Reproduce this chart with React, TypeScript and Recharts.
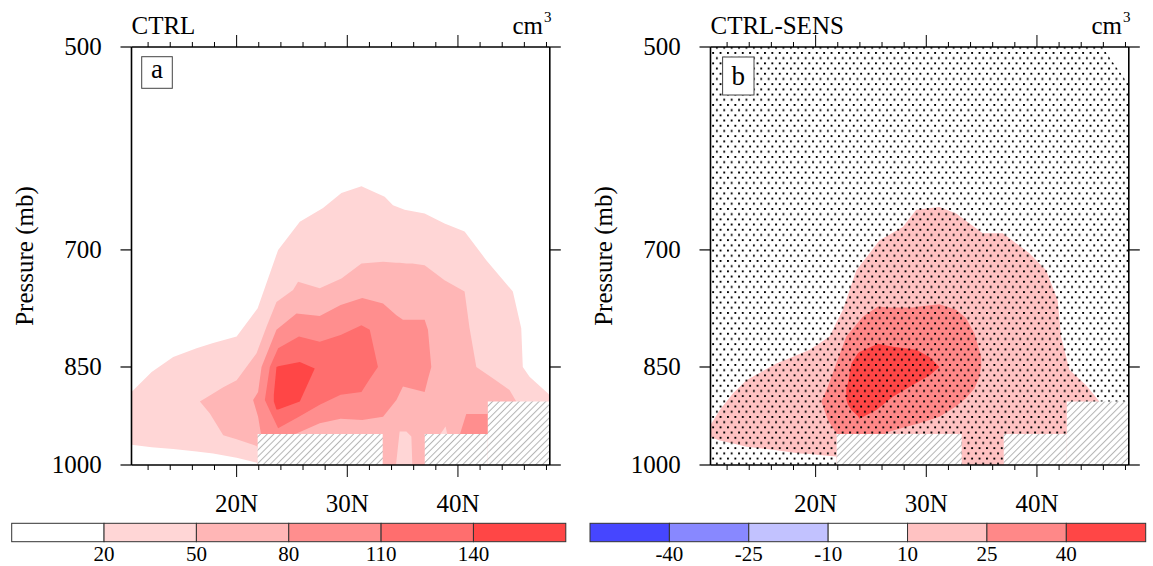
import { Area, ComposedChart, XAxis, YAxis } from 'recharts';

type Pt = { lat: number; p: [number, number] };

const FONT = '"Liberation Serif", "Times New Roman", serif';

const latDomain = [10.5, 48.3];
const latTicks = [12, 14, 16, 18, 20, 22, 24, 26, 28, 30, 32, 34, 36, 38, 40, 42, 44, 46, 48];
const pDomain = [500, 1000];
const pTicks = [500, 700, 850, 1000];

const ctrlLabels = ['20', '50', '80', '110', '140'];
const ctrlColors = ['#ffffff', '#ffd6d6', '#ffb6b6', '#ff8e8e', '#ff6e6e', '#ff4646'];
const diffLabels = ['-40', '-25', '-10', '10', '25', '40'];
const diffColors = ['#4646ff', '#8888ff', '#c2c2ff', '#ffffff', '#ffc2c2', '#ff8888', '#ff4646'];

// CTRL, each band as [top, bottom] pressure per latitude
const ctrl20: Pt[] = [
  { lat: 10.5, p: [886, 967] }, { lat: 12.32, p: [857, 971] }, { lat: 14.27, p: [836, 974] },
  { lat: 16.38, p: [824, 978] }, { lat: 17.88, p: [817, 981] }, { lat: 20.0, p: [808, 988] },
  { lat: 21.8, p: [773, 996] }, { lat: 21.9, p: [771, 1000] }, { lat: 23.75, p: [700, 1000] },
  { lat: 25.71, p: [668, 1000] }, { lat: 27.81, p: [653, 1000] }, { lat: 29.47, p: [637, 1000] },
  { lat: 31.28, p: [630, 1000] }, { lat: 33.38, p: [641, 1000] }, { lat: 34.13, p: [650, 1000] },
  { lat: 35.18, p: [655, 1000] }, { lat: 36.99, p: [659, 1000] }, { lat: 38.79, p: [670, 1000] },
  { lat: 40.6, p: [679, 1000] }, { lat: 42.56, p: [712, 1000] }, { lat: 44.96, p: [750, 1000] },
  { lat: 45.72, p: [797, 1000] }, { lat: 45.86, p: [850, 1000] }, { lat: 46.47, p: [864, 1000] },
  { lat: 48.12, p: [888, 1000] }, { lat: 48.3, p: [891, 1000] },
];
const ctrl50: Pt[] = [
  { lat: 16.68, p: [900, 900] }, { lat: 17.58, p: [891, 918] }, { lat: 18.79, p: [879, 952] },
  { lat: 20.0, p: [869, 958] }, { lat: 21.8, p: [831, 969] }, { lat: 22.7, p: [795, 1000] },
  { lat: 23.6, p: [763, 1000] }, { lat: 25.1, p: [748, 1000] }, { lat: 25.55, p: [738, 1000] },
  { lat: 27.51, p: [746, 1000] }, { lat: 29.47, p: [734, 1000] }, { lat: 31.28, p: [716, 1000] },
  { lat: 33.23, p: [714, 1000] }, { lat: 34.4, p: [715, 1000] }, { lat: 34.73, p: [715, 946] },
  { lat: 35.34, p: [716, 946] }, { lat: 35.79, p: [716, 954] }, { lat: 35.88, p: [716, 1000] },
  { lat: 36.99, p: [718, 1000] }, { lat: 38.79, p: [736, 1000] }, { lat: 40.6, p: [750, 1000] },
  { lat: 41.05, p: [797, 1000] }, { lat: 41.66, p: [850, 1000] }, { lat: 43.15, p: [866, 1000] },
  { lat: 44.66, p: [883, 1000] }, { lat: 45.27, p: [900, 1000] },
];
const ctrl20Notch: Pt[] = [
  { lat: 38.34, p: [952, 952] }, { lat: 38.88, p: [938, 952] }, { lat: 39.06, p: [952, 952] },
];
const ctrl80: Pt[] = [
  { lat: 21.49, p: [898, 898] }, { lat: 21.94, p: [886, 923] }, { lat: 22.25, p: [850, 955] },
  { lat: 23.6, p: [799, 960] }, { lat: 25.41, p: [778, 949] }, { lat: 27.51, p: [781, 933] },
  { lat: 29.4, p: [767, 926] }, { lat: 31.35, p: [758, 928] }, { lat: 33.23, p: [765, 923] },
  { lat: 34.44, p: [780, 898] }, { lat: 35.03, p: [786, 878] }, { lat: 36.99, p: [786, 886] },
  { lat: 37.29, p: [799, 867] }, { lat: 37.59, p: [850, 850] },
];
const ctrl80Patch: Pt[] = [
  { lat: 40.15, p: [952, 952] }, { lat: 40.75, p: [919, 952] }, { lat: 42.7, p: [919, 952] },
];
const ctrl110: Pt[] = [
  { lat: 22.55, p: [898, 898] }, { lat: 23.0, p: [850, 914] }, { lat: 23.75, p: [824, 941] },
  { lat: 25.63, p: [808, 923] }, { lat: 27.51, p: [815, 905] }, { lat: 29.4, p: [806, 890] },
  { lat: 31.28, p: [793, 886] }, { lat: 32.03, p: [799, 867] }, { lat: 32.77, p: [850, 850] },
];
const ctrl140: Pt[] = [
  { lat: 23.36, p: [890, 900] }, { lat: 23.6, p: [850, 912] }, { lat: 23.75, p: [849, 912] },
  { lat: 25.71, p: [843, 900] }, { lat: 27.06, p: [852, 852] },
];

// CTRL-SENS
const diff10: Pt[] = [
  { lat: 10.5, p: [936, 955] }, { lat: 11.34, p: [913, 960] }, { lat: 12.54, p: [888, 965] },
  { lat: 13.75, p: [869, 970] }, { lat: 16.46, p: [845, 976] }, { lat: 18.56, p: [832, 981] },
  { lat: 19.46, p: [826, 982] }, { lat: 21.27, p: [808, 985] }, { lat: 21.87, p: [790, 986] },
  { lat: 21.9, p: [789, 1000] }, { lat: 22.47, p: [773, 1000] }, { lat: 23.68, p: [724, 1000] },
  { lat: 25.78, p: [689, 1000] }, { lat: 27.88, p: [674, 1000] }, { lat: 29.09, p: [655, 1000] },
  { lat: 31.19, p: [652, 1000] }, { lat: 32.7, p: [659, 1000] }, { lat: 35.1, p: [681, 1000] },
  { lat: 36.91, p: [681, 1000] }, { lat: 39.32, p: [704, 1000] }, { lat: 40.83, p: [724, 1000] },
  { lat: 41.87, p: [761, 1000] }, { lat: 42.18, p: [808, 1000] }, { lat: 42.93, p: [854, 1000] },
  { lat: 44.44, p: [876, 1000] }, { lat: 45.64, p: [900, 1000] },
];
const diff25: Pt[] = [
  { lat: 20.52, p: [900, 900] }, { lat: 21.11, p: [878, 928] }, { lat: 21.87, p: [845, 949] },
  { lat: 22.77, p: [808, 955] }, { lat: 24.27, p: [782, 955] }, { lat: 25.63, p: [769, 955] },
  { lat: 26.68, p: [770, 946] }, { lat: 28.79, p: [770, 936] }, { lat: 29.39, p: [769, 933] },
  { lat: 31.19, p: [766, 923] }, { lat: 32.7, p: [773, 907] }, { lat: 33.6, p: [784, 895] },
  { lat: 34.35, p: [804, 881] }, { lat: 34.8, p: [827, 864] }, { lat: 34.96, p: [836, 850] },
];
const diff40: Pt[] = [
  { lat: 22.77, p: [880, 897] }, { lat: 22.92, p: [873, 905] }, { lat: 23.23, p: [845, 913] },
  { lat: 23.82, p: [831, 922] }, { lat: 23.97, p: [829, 926] }, { lat: 25.48, p: [819, 913] },
  { lat: 25.63, p: [818, 911] }, { lat: 26.98, p: [822, 893] }, { lat: 29.09, p: [826, 873] },
  { lat: 30.29, p: [836, 862] }, { lat: 31.19, p: [850, 850] },
];
// stippled (significant) region
const diffSig: Pt[] = [
  { lat: 10.5, p: [500, 1000] }, { lat: 45.9, p: [500, 1000] }, { lat: 48.3, p: [532, 1000] },
];

// terrain (hatched)
const terrainA: Pt[] = [{ lat: 21.9, p: [950, 1000] }, { lat: 33.2, p: [950, 1000] }];
const terrainB: Pt[] = [{ lat: 37.0, p: [950, 1000] }, { lat: 42.7, p: [950, 1000] }];
const terrainC: Pt[] = [{ lat: 42.7, p: [900, 1000] }, { lat: 48.3, p: [900, 1000] }];

type Layer = { data: Pt[]; fill: string };

function BottomTick(props: any) {
  const { x, y, payload } = props;
  const major = payload.value % 10 === 0;
  return (
    <g>
      <line x1={x} x2={x} y1={y} y2={y + (major ? 12 : 5)} stroke="#000" strokeWidth={1} />
      {major && (
        <text x={x} y={y + 46.7} textAnchor="middle" fontSize={25} fontFamily={FONT} fill="#000">
          {payload.value}N
        </text>
      )}
    </g>
  );
}

function TopTick(props: any) {
  const { x, y, payload } = props;
  const major = payload.value % 10 === 0;
  return <line x1={x} x2={x} y1={y} y2={y - (major ? 12 : 5)} stroke="#000" strokeWidth={1} />;
}

function LeftTick(props: any) {
  const { x, y, payload } = props;
  return (
    <g>
      <line x1={x - 11} x2={x} y1={y} y2={y} stroke="#000" strokeWidth={1.2} />
      <text x={x - 29.8} y={y + 8} textAnchor="end" fontSize={25} fontFamily={FONT} fill="#000">
        {payload.value}
      </text>
    </g>
  );
}

function RightTick(props: any) {
  const { x, y } = props;
  return <line x1={x} x2={x + 11} y1={y} y2={y} stroke="#000" strokeWidth={1.2} />;
}

function Panel({ id, left, layers }: { id: string; left: number; layers: Layer[] }) {
  const axisLine = { stroke: '#000', strokeWidth: 1.6 };
  return (
    <div style={{ position: 'absolute', left, top: 0 }}>
      <ComposedChart width={574} height={566} margin={{ top: 27, right: 4.2, bottom: 61, left: 71.5 }}>
        <defs>
          <pattern id={`hatch-${id}`} width="4.7" height="4.7" patternUnits="userSpaceOnUse" patternTransform="rotate(45)">
            <rect width="4.7" height="4.7" fill="#fff" />
            <line x1="2.35" y1="0" x2="2.35" y2="4.7" stroke="#b4b4b4" strokeWidth="1" />
          </pattern>
          <pattern id={`dots-${id}`} width="7.4" height="10.4" patternUnits="userSpaceOnUse">
            <rect x="0" y="0" width="1.9" height="1.9" fill="#000" />
            <rect x="3.7" y="5.2" width="1.9" height="1.9" fill="#000" />
          </pattern>
        </defs>
        <XAxis
          xAxisId="b"
          orientation="bottom"
          type="number"
          dataKey="lat"
          domain={latDomain}
          allowDataOverflow
          ticks={latTicks}
          interval={0}
          tickSize={0}
          tickMargin={0}
          tickLine={false}
          tick={BottomTick}
          axisLine={axisLine}
          height={40}
        />
        <XAxis
          xAxisId="t"
          orientation="top"
          type="number"
          dataKey="lat"
          domain={latDomain}
          allowDataOverflow
          ticks={latTicks}
          interval={0}
          tickSize={0}
          tickMargin={0}
          tickLine={false}
          tick={TopTick}
          axisLine={axisLine}
          height={20}
        />
        <YAxis
          yAxisId="l"
          type="number"
          scale="log"
          domain={pDomain}
          allowDataOverflow
          reversed
          ticks={pTicks}
          interval={0}
          tickSize={0}
          tickMargin={0}
          tickLine={false}
          tick={LeftTick}
          axisLine={axisLine}
          width={60}
        />
        <YAxis
          yAxisId="r"
          orientation="right"
          type="number"
          scale="log"
          domain={pDomain}
          allowDataOverflow
          reversed
          ticks={pTicks}
          interval={0}
          tickSize={0}
          tickMargin={0}
          tickLine={false}
          tick={RightTick}
          axisLine={axisLine}
          width={20}
        />
        {layers.map((l, i) => (
          <Area
            key={i}
            xAxisId="b"
            yAxisId="l"
            data={l.data}
            dataKey="p"
            type="linear"
            stroke="none"
            fill={l.fill.replace('#ID', id)}
            fillOpacity={1}
            dot={false}
            activeDot={false}
            isAnimationActive={false}
          />
        ))}
      </ComposedChart>
    </div>
  );
}

function ColorBar({ x, w, colors, labels }: { x: number; w: number; colors: string[]; labels: string[] }) {
  const bw = w / colors.length;
  return (
    <g>
      {colors.map((c, i) => (
        <rect key={i} x={x + i * bw} y={523.3} width={bw} height={18.4} fill={c} stroke="#333" strokeWidth={1} />
      ))}
      {labels.map((l, i) => (
        <text key={i} x={x + (i + 1) * bw} y={561} textAnchor="middle" fontSize={21} fontFamily={FONT} fill="#000">
          {l}
        </text>
      ))}
    </g>
  );
}

const hatch = 'url(#hatch-#ID)';

const ctrlLayers: Layer[] = [
  { data: ctrl20, fill: ctrlColors[1] },
  { data: ctrl50, fill: ctrlColors[2] },
  { data: ctrl20Notch, fill: ctrlColors[1] },
  { data: ctrl80, fill: ctrlColors[3] },
  { data: ctrl80Patch, fill: ctrlColors[3] },
  { data: ctrl110, fill: ctrlColors[4] },
  { data: ctrl140, fill: ctrlColors[5] },
  { data: terrainA, fill: hatch },
  { data: terrainB, fill: hatch },
  { data: terrainC, fill: hatch },
];

const diffLayers: Layer[] = [
  { data: diff10, fill: diffColors[4] },
  { data: diff25, fill: diffColors[5] },
  { data: diff40, fill: diffColors[6] },
  { data: diffSig, fill: 'url(#dots-#ID)' },
  { data: terrainA, fill: hatch },
  { data: terrainB, fill: hatch },
  { data: terrainC, fill: hatch },
];

export default function App() {
  return (
    <div
      style={{
        position: 'absolute',
        left: 0,
        top: 0,
        width: 1153,
        height: 566,
        overflow: 'hidden',
        background: '#fff',
        fontFamily: FONT,
      }}
    >
      <Panel id="a" left={0} layers={ctrlLayers} />
      <Panel id="b" left={579} layers={diffLayers} />
      <svg width={1153} height={566} style={{ position: 'absolute', left: 0, top: 0, pointerEvents: 'none' }}>
        <g fontFamily={FONT} fill="#000">
          <text x={131.5} y={33.5} fontSize={25}>CTRL</text>
          <text x={543} y={33.5} fontSize={25} textAnchor="end">cm</text>
          <text x={544} y={22} fontSize={15}>3</text>
          <text x={710.5} y={33.5} fontSize={25}>CTRL-SENS</text>
          <text x={1122} y={33.5} fontSize={25} textAnchor="end">cm</text>
          <text x={1123} y={22} fontSize={15}>3</text>

          <rect x={141.7} y={56.7} width={30.6} height={31.6} fill="#fff" stroke="#444" strokeWidth={1} />
          <text x={157} y={78.3} fontSize={27} textAnchor="middle">a</text>
          <rect x={722.6} y={57} width={31.4} height={38} fill="#fff" stroke="#444" strokeWidth={1} />
          <text x={738.3} y={85} fontSize={27} textAnchor="middle">b</text>

          <text transform="translate(33,256) rotate(-90)" fontSize={25} textAnchor="middle">Pressure (mb)</text>
          <text transform="translate(612,256) rotate(-90)" fontSize={25} textAnchor="middle">Pressure (mb)</text>
        </g>
        <ColorBar x={11.7} w={554.1} colors={ctrlColors} labels={ctrlLabels} />
        <ColorBar x={590} w={555.7} colors={diffColors} labels={diffLabels} />
      </svg>
    </div>
  );
}
